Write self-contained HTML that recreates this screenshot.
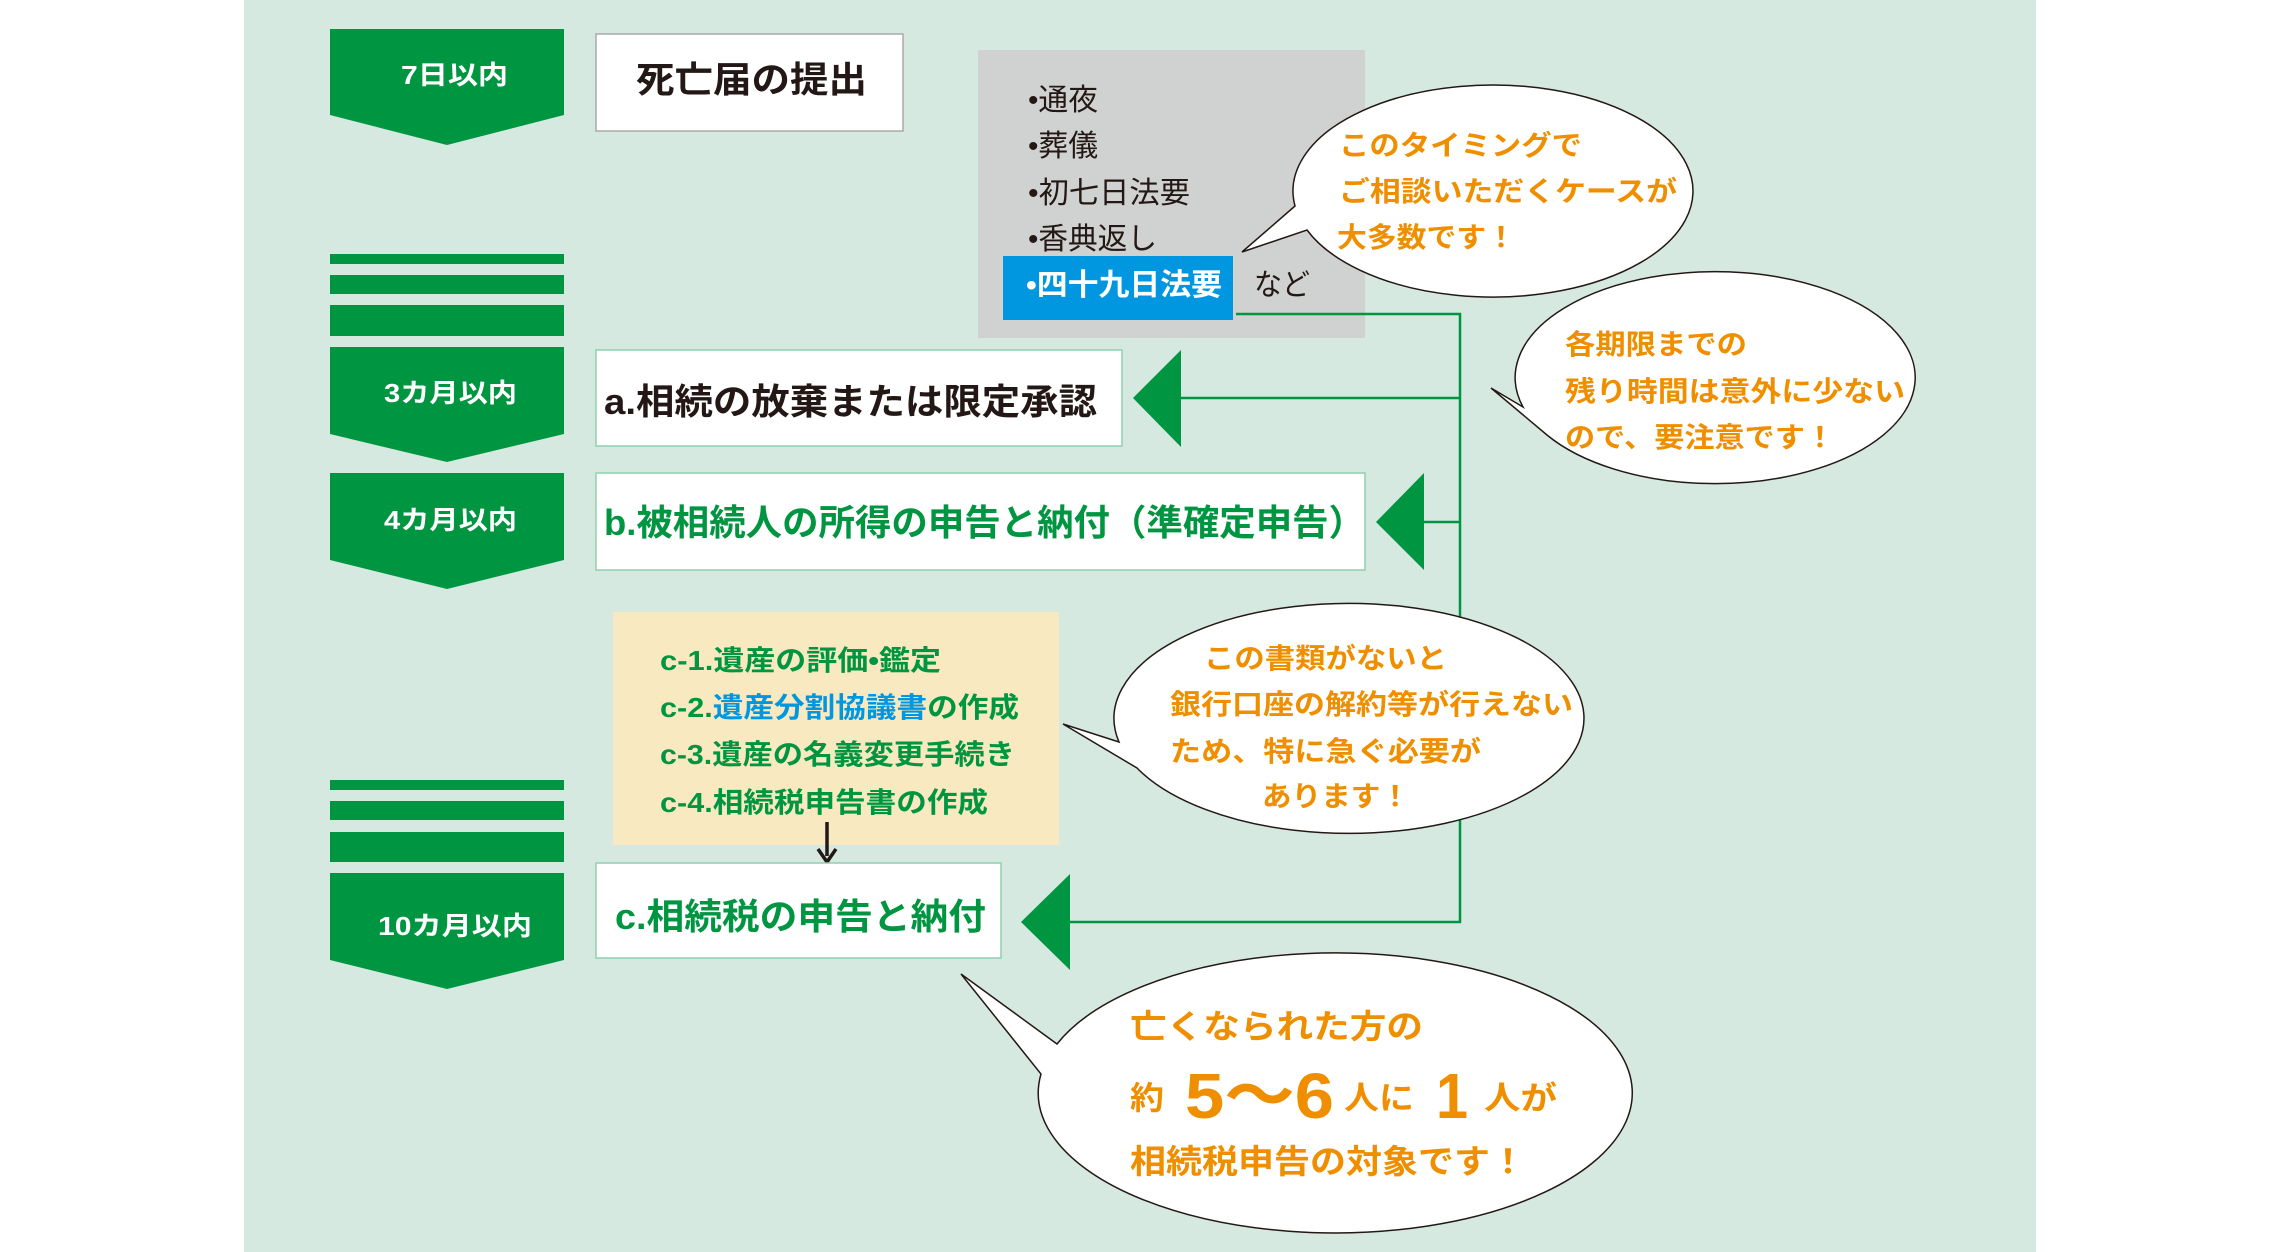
<!DOCTYPE html>
<html><head><meta charset="utf-8"><style>
html,body{margin:0;padding:0;background:#fff;}
svg{display:block;}
text{font-family:"Liberation Sans","Noto Sans CJK JP",sans-serif;font-weight:bold;}
</style></head><body>
<svg width="2281" height="1252" viewBox="0 0 2281 1252" xmlns="http://www.w3.org/2000/svg">
<rect x="244" y="0" width="1792" height="1252" fill="#d5e9e1"/>
<g fill="#009540">
<polygon points="330,29 564,29 564,115 447,145 330,115"/>
<rect x="330" y="254" width="234" height="10"/>
<rect x="330" y="275" width="234" height="19"/>
<rect x="330" y="305" width="234" height="31"/>
<polygon points="330,347 564,347 564,434 447,462 330,434"/>
<polygon points="330,473 564,473 564,560 447,589 330,560"/>
<rect x="330" y="780" width="234" height="10"/>
<rect x="330" y="801" width="234" height="19"/>
<rect x="330" y="832" width="234" height="30"/>
<polygon points="330,873 564,873 564,960 447,989 330,960"/>
</g>
<g fill="#fff" font-size="26">
<text x="401" y="84" textLength="107" lengthAdjust="spacingAndGlyphs">7日以内</text>
<text x="384" y="402" textLength="133" lengthAdjust="spacingAndGlyphs">3カ月以内</text>
<text x="384" y="529" textLength="133" lengthAdjust="spacingAndGlyphs">4カ月以内</text>
<text x="378" y="935" textLength="154" lengthAdjust="spacingAndGlyphs">10カ月以内</text>
</g>
<rect x="596" y="34" width="307" height="97" fill="#fff" stroke="#aaa" stroke-width="1.5"/>
<text x="636" y="92" font-size="36" fill="#231815" textLength="231" lengthAdjust="spacingAndGlyphs">死亡届の提出</text>
<rect x="978" y="50" width="387" height="288" fill="#d0d1d1"/>
<g font-size="30" fill="#231815">
<text x="1028" y="110" textLength="70" lengthAdjust="spacingAndGlyphs" style="font-weight:normal">•通夜</text>
<text x="1028" y="156" textLength="70" lengthAdjust="spacingAndGlyphs" style="font-weight:normal">•葬儀</text>
<text x="1028" y="203" textLength="162" lengthAdjust="spacingAndGlyphs" style="font-weight:normal">•初七日法要</text>
<text x="1028" y="249" textLength="129" lengthAdjust="spacingAndGlyphs" style="font-weight:normal">•香典返し</text>
<text x="1254" y="295" textLength="56" lengthAdjust="spacingAndGlyphs" style="font-weight:normal">など</text>
</g>
<rect x="1003" y="256" width="230" height="64" fill="#0097e0"/>
<text x="1026" y="295" font-size="30" fill="#fff" textLength="196" lengthAdjust="spacingAndGlyphs">•四十九日法要</text>

<rect x="596" y="350" width="526" height="96" fill="#fff" stroke="#8fcfae" stroke-width="1.5"/>
<text x="604" y="414" font-size="36" fill="#231815" textLength="493" lengthAdjust="spacingAndGlyphs">a.相続の放棄または限定承認</text>
<rect x="596" y="473" width="769" height="97" fill="#fff" stroke="#8fcfae" stroke-width="1.5"/>
<text x="604" y="535" font-size="36" fill="#009540" textLength="761" lengthAdjust="spacingAndGlyphs">b.被相続人の所得の申告と納付（準確定申告）</text>

<rect x="613" y="612" width="446" height="233" fill="#f9e9c0"/>
<g font-size="28" fill="#009540">
<text x="660" y="670" textLength="281" lengthAdjust="spacingAndGlyphs">c-1.遺産の評価•鑑定</text>
<text x="660" y="717" textLength="359" lengthAdjust="spacingAndGlyphs">c-2.<tspan fill="#0097e0">遺産分割協議書</tspan>の作成</text>
<text x="660" y="764" textLength="355" lengthAdjust="spacingAndGlyphs">c-3.遺産の名義変更手続き</text>
<text x="660" y="812" textLength="328" lengthAdjust="spacingAndGlyphs">c-4.相続税申告書の作成</text>
</g>
<line x1="827" y1="822" x2="827" y2="856" stroke="#231815" stroke-width="3.5"/>
<polyline points="818,849 827,862 836,849" fill="none" stroke="#231815" stroke-width="3.5"/>
<rect x="596" y="863" width="405" height="95" fill="#fff" stroke="#8fcfae" stroke-width="1.5"/>
<text x="615" y="929" font-size="36" fill="#009540" textLength="371" lengthAdjust="spacingAndGlyphs">c.相続税の申告と納付</text>

<g stroke="#009540" stroke-width="2.5" fill="none">
<polyline points="1236,314 1460,314 1460,922 1070,922"/>
<line x1="1181" y1="398" x2="1460" y2="398"/>
<line x1="1424" y1="522" x2="1460" y2="522"/>
</g>
<g fill="#009540">
<polygon points="1133,398 1181,350 1181,447"/>
<polygon points="1376,522 1424,473 1424,570"/>
<polygon points="1021,922 1070,874 1070,970"/>
</g>

<g fill="#fff" stroke="#231815" stroke-width="1.5">
<path d="M1295,206 L1242,252 L1307,230 A200,106 0 1 0 1295,206 Z"/>
<path d="M1523,407 L1491,388 L1547,435 A200,106 0 1 0 1523,407 Z"/>
<path d="M1119,742 L1063,724 L1137,768 A235,115 0 1 0 1119,742 Z"/>
<path d="M1057,1044 L961,974 L1041,1074 A297,140 0 1 0 1057,1044 Z"/>
</g>
<g font-size="28" fill="#ef8f00">
<text x="1339" y="155" textLength="243" lengthAdjust="spacingAndGlyphs">このタイミングで</text>
<text x="1339" y="201" textLength="338" lengthAdjust="spacingAndGlyphs">ご相談いただくケースが</text>
<text x="1337" y="247" textLength="179" lengthAdjust="spacingAndGlyphs">大多数です！</text>
<text x="1565" y="354" textLength="182" lengthAdjust="spacingAndGlyphs">各期限までの</text>
<text x="1565" y="401" textLength="340" lengthAdjust="spacingAndGlyphs">残り時間は意外に少ない</text>
<text x="1565" y="447" textLength="270" lengthAdjust="spacingAndGlyphs">ので、要注意です！</text>
<text x="1204" y="668" textLength="243" lengthAdjust="spacingAndGlyphs">この書類がないと</text>
<text x="1170" y="714" textLength="403" lengthAdjust="spacingAndGlyphs">銀行口座の解約等が行えない</text>
<text x="1170" y="761" textLength="311" lengthAdjust="spacingAndGlyphs">ため、特に急ぐ必要が</text>
<text x="1262" y="806" textLength="148" lengthAdjust="spacingAndGlyphs">あります！</text>
</g>
<g fill="#ef8f00">
<text x="1130" y="1038" font-size="33" textLength="293" lengthAdjust="spacingAndGlyphs">亡くなられた方の</text>
<text x="1130" y="1109" font-size="32" textLength="34" lengthAdjust="spacingAndGlyphs">約</text>
<text x="1185" y="1118" font-size="64" textLength="149" lengthAdjust="spacingAndGlyphs">5〜6</text>
<text x="1344" y="1109" font-size="32" textLength="70" lengthAdjust="spacingAndGlyphs">人に</text>
<text x="1436" y="1118" font-size="64" textLength="32" lengthAdjust="spacingAndGlyphs">1</text>
<text x="1484" y="1109" font-size="32" textLength="73" lengthAdjust="spacingAndGlyphs">人が</text>
<text x="1130" y="1173" font-size="33" textLength="396" lengthAdjust="spacingAndGlyphs">相続税申告の対象です！</text>
</g>
</svg>
</body></html>
